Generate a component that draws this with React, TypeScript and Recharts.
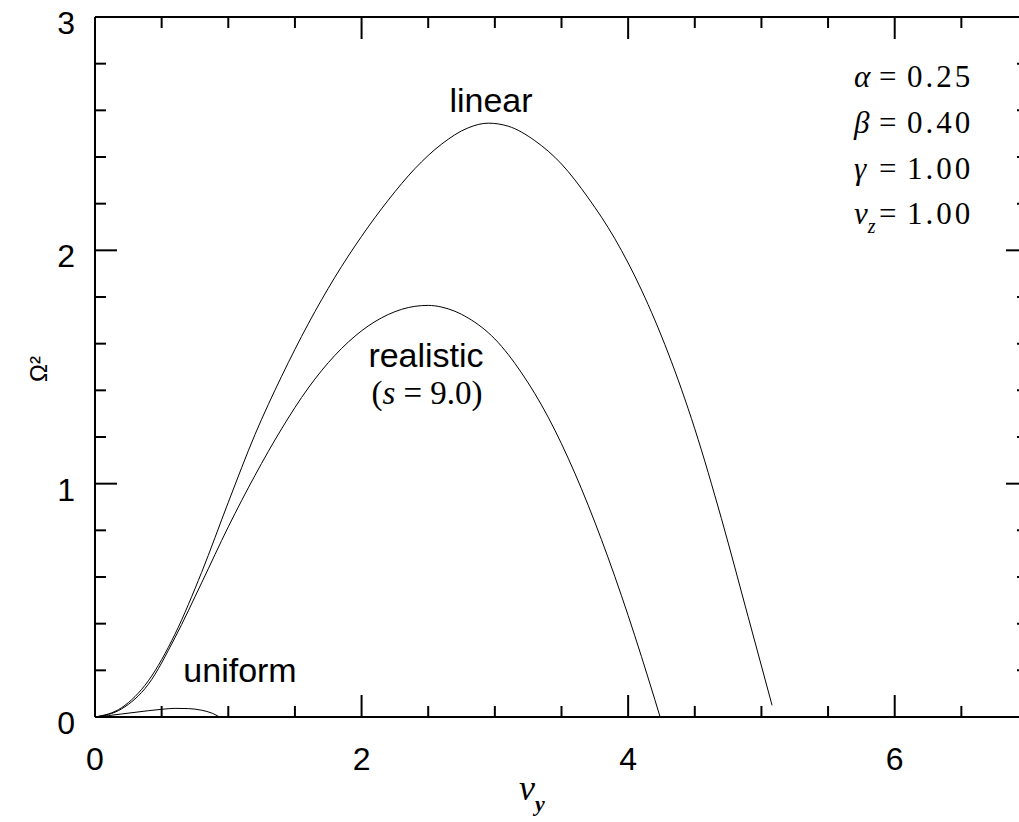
import { LineChart, Line, XAxis, YAxis } from "recharts";

// tick positions along each axis (labels only on the major ones)
const xTicks = [0, 0.5, 1, 1.5, 2, 2.5, 3, 3.5, 4, 4.5, 5, 5.5, 6, 6.5, 7];
const yTicks = [0, 0.2, 0.4, 0.6, 0.8, 1, 1.2, 1.4, 1.6, 1.8, 2, 2.2, 2.4, 2.6, 2.8, 3];
const xLabels = [0, 2, 4, 6];
const yLabels = [0, 1, 2, 3];

// [nu_y, Omega^2]
const linearCurve: [number, number][] = [
  [0, 0], [0.2, 0.04], [0.4, 0.155], [0.6, 0.355], [0.8, 0.62], [1.0, 0.92],
  [1.2, 1.21], [1.4, 1.46], [1.6, 1.685], [1.8, 1.885], [2.0, 2.06], [2.2, 2.215],
  [2.4, 2.35], [2.6, 2.455], [2.8, 2.525], [2.95, 2.545], [3.1, 2.532], [3.3, 2.47],
  [3.5, 2.37], [3.7, 2.225], [3.9, 2.05], [4.1, 1.83], [4.3, 1.56], [4.5, 1.235],
  [4.7, 0.85], [4.9, 0.43], [5.08, 0.05],
];

const realisticCurve: [number, number][] = [
  [0, 0], [0.2, 0.035], [0.4, 0.14], [0.6, 0.34], [0.8, 0.575], [1.0, 0.815],
  [1.2, 1.035], [1.4, 1.235], [1.6, 1.41], [1.8, 1.55], [2.0, 1.655], [2.2, 1.725],
  [2.4, 1.76], [2.5, 1.764], [2.6, 1.757], [2.8, 1.71], [3.0, 1.62], [3.2, 1.475],
  [3.4, 1.285], [3.6, 1.045], [3.8, 0.76], [4.0, 0.435], [4.2, 0.075], [4.24, 0],
];

const uniformCurve: [number, number][] = [
  [0, 0], [0.1, 0.006], [0.2, 0.013], [0.3, 0.02], [0.4, 0.027], [0.5, 0.033],
  [0.6, 0.037], [0.7, 0.036], [0.8, 0.029], [0.88, 0.016], [0.935, 0],
];

const toRows = (pts: [number, number][]) => pts.map(([nu, omega2]) => ({ nu, omega2 }));

const SANS = "'Liberation Sans', Arial, sans-serif";
const SERIF = "'Liberation Serif', 'DejaVu Serif', serif";
const INK = "#000";
const MAJOR = 22;
const MINOR = 11;

// ticks point inward, so they are drawn by hand from the axis position
function BottomTick({ x, y, payload }: any) {
  const major = xLabels.includes(payload.value);
  return (
    <g>
      <line x1={x} y1={y} x2={x} y2={y - (major ? MAJOR : MINOR)} stroke={INK} strokeWidth={2} />
      {major && (
        <text x={x} y={y + 53} textAnchor="middle" fontSize={32} fontFamily={SANS} fill={INK}>
          {payload.value}
        </text>
      )}
    </g>
  );
}

function TopTick({ x, y, payload }: any) {
  const major = xLabels.includes(payload.value);
  return <line x1={x} y1={y} x2={x} y2={y + (major ? MAJOR : MINOR)} stroke={INK} strokeWidth={2} />;
}

function LeftTick({ x, y, payload }: any) {
  const major = yLabels.includes(payload.value);
  return (
    <g>
      <line x1={x} y1={y} x2={x + (major ? MAJOR : MINOR)} y2={y} stroke={INK} strokeWidth={2} />
      {major && (
        <text x={x - 20} y={y + 17} textAnchor="end" fontSize={32} fontFamily={SANS} fill={INK}>
          {payload.value}
        </text>
      )}
    </g>
  );
}

function RightTick({ x, y, payload }: any) {
  const major = yLabels.includes(payload.value);
  return <line x1={x} y1={y} x2={x - (major ? MAJOR : MINOR)} y2={y} stroke={INK} strokeWidth={2} />;
}

const axisLine = { stroke: INK, strokeWidth: 2 };

function Param({ y, sym, sub, value }: { y: number; sym: string; sub?: string; value: string }) {
  return (
    <text y={y} fontSize={31} fontFamily={SERIF} fill={INK}>
      <tspan x={854} fontStyle="italic">{sym}</tspan>
      {sub && (
        <tspan fontSize={20} fontStyle="italic" dy={9}>{sub}</tspan>
      )}
      <tspan x={879} y={y}>=</tspan>
      <tspan x={907} letterSpacing={3}>{value}</tspan>
    </text>
  );
}

export default function App() {
  return (
    <div style={{ position: "fixed", left: 0, top: 0, width: 1019, height: 822, overflow: "hidden", background: "#fff" }}>
      <LineChart width={1040} height={822} margin={{ top: 16, right: 11, bottom: 104, left: 94 }}>
        <XAxis
          xAxisId="bottom"
          dataKey="nu"
          type="number"
          domain={[0, 7]}
          ticks={xTicks}
          height={1}
          tickSize={0}
          tickMargin={0}
          axisLine={axisLine}
          tickLine={false}
          tick={BottomTick}
          interval={0}
        />
        <XAxis
          xAxisId="top"
          orientation="top"
          dataKey="nu"
          type="number"
          domain={[0, 7]}
          ticks={xTicks}
          height={1}
          tickSize={0}
          tickMargin={0}
          axisLine={axisLine}
          tickLine={false}
          tick={TopTick}
          interval={0}
        />
        <YAxis
          yAxisId="left"
          type="number"
          domain={[0, 3]}
          ticks={yTicks}
          width={1}
          tickSize={0}
          tickMargin={0}
          axisLine={axisLine}
          tickLine={false}
          tick={LeftTick}
          interval={0}
        />
        <YAxis
          yAxisId="right"
          orientation="right"
          type="number"
          domain={[0, 3]}
          ticks={yTicks}
          width={1}
          tickSize={0}
          tickMargin={0}
          axisLine={axisLine}
          tickLine={false}
          tick={RightTick}
          interval={0}
        />
        <Line xAxisId="bottom" yAxisId="left" data={toRows(linearCurve)} dataKey="omega2" type="monotone" stroke={INK} strokeWidth={1} dot={false} isAnimationActive={false} />
        <Line xAxisId="bottom" yAxisId="left" data={toRows(realisticCurve)} dataKey="omega2" type="monotone" stroke={INK} strokeWidth={1} dot={false} isAnimationActive={false} />
        <Line xAxisId="bottom" yAxisId="left" data={toRows(uniformCurve)} dataKey="omega2" type="monotone" stroke={INK} strokeWidth={1} dot={false} isAnimationActive={false} />
        {/* invisible copy so the mirrored top/right axes have a series */}
        <Line xAxisId="top" yAxisId="right" data={toRows(linearCurve)} dataKey="omega2" type="monotone" stroke="none" dot={false} isAnimationActive={false} />
      </LineChart>

      {/* curve names, axis titles and model parameters */}
      <svg width={1019} height={822} style={{ position: "absolute", left: 0, top: 0, pointerEvents: "none" }}>
        <text x={491} y={112} textAnchor="middle" fontSize={34} fontFamily={SANS} fill={INK}>linear</text>
        <text x={426} y={367} textAnchor="middle" fontSize={34} fontFamily={SANS} fill={INK}>realistic</text>
        <text x={427} y={404} textAnchor="middle" fontSize={33} fontFamily={SERIF} fill={INK}>
          (<tspan fontStyle="italic">s</tspan> = 9.0)
        </text>
        <text x={240} y={682} textAnchor="middle" fontSize={34} fontFamily={SANS} fill={INK}>uniform</text>

        <text x={47} y={369} transform="rotate(-90 47 369)" textAnchor="middle" fontSize={24} fontFamily={SANS} fill={INK}>
          Ω²
        </text>
        <text x={519} y={800} fontSize={36} fontFamily={SERIF} fill={INK}>
          <tspan fontStyle="italic">ν</tspan>
          <tspan fontSize={22} fontStyle="italic" fontWeight="bold" dy={11}>y</tspan>
        </text>

        <Param y={87} sym="α" value="0.25" />
        <Param y={133} sym="β" value="0.40" />
        <Param y={179} sym="γ" value="1.00" />
        <Param y={224} sym="ν" sub="z" value="1.00" />
      </svg>
    </div>
  );
}
